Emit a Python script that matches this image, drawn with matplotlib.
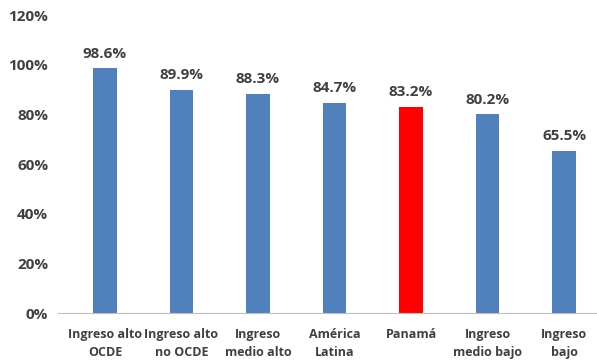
import matplotlib
matplotlib.use('Agg')
import matplotlib.pyplot as plt
from matplotlib.ticker import FuncFormatter

categorias = ['Ingreso alto\nOCDE', 'Ingreso alto\nno OCDE', 'Ingreso\nmedio alto',
              'América\nLatina', 'Panamá', 'Ingreso\nmedio bajo', 'Ingreso\nbajo']
valores = [98.6, 89.9, 88.3, 84.7, 83.2, 80.2, 65.5]
colores = ['#4f81bd', '#4f81bd', '#4f81bd', '#4f81bd', '#ff0000', '#4f81bd', '#4f81bd']

gris = '#404040'
plt.rcParams['font.family'] = ['Open Sans', 'DejaVu Sans']
plt.rcParams['font.weight'] = 'bold'

fig = plt.figure(figsize=(5.97, 3.62), dpi=100, facecolor='w')
ax = fig.add_axes([0.097, 0.135, 0.903, 0.823])

x = range(len(categorias))
barras = ax.bar(x, valores, width=0.31, color=colores)
for b, v in zip(barras, valores):
    ax.text(b.get_x() + b.get_width() / 2, v + 3, '{:.1f}%'.format(v),
            ha='center', va='bottom', fontsize=11, color=gris, fontweight='bold')

ax.set_xlim(-0.614, 6.43)
ax.set_ylim(0, 120)
ax.set_yticks(range(0, 121, 20))
ax.yaxis.set_major_formatter(FuncFormatter(lambda v, p: '{:.0f}%'.format(v)))
ax.set_xticks(list(x))
ax.set_xticklabels(categorias, fontsize=9, color=gris, fontweight='bold', linespacing=1.5)
ax.tick_params(axis='y', labelsize=11, labelcolor=gris, length=0, pad=7)
ax.tick_params(axis='x', length=0, pad=11)
for s in ['top', 'right', 'left']:
    ax.spines[s].set_visible(False)
ax.spines['bottom'].set_color('#bfbfbf')

plt.savefig('out.png', dpi=100)
